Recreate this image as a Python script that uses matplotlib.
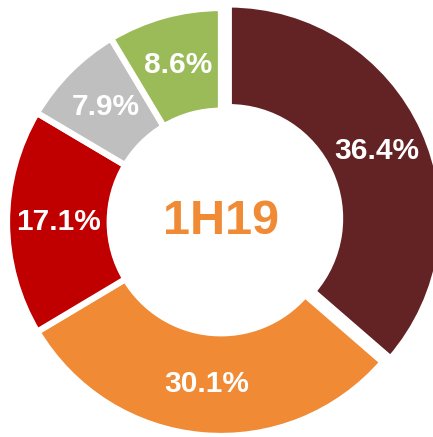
import matplotlib
matplotlib.use("Agg")
import matplotlib.pyplot as plt
import numpy as np

# slice shares in percent, clockwise from 12 o'clock
shares = [36.4, 30.1, 17.1, 7.9, 8.6]
labels = ["36.4%", "30.1%", "17.1%", "7.9%", "8.6%"]
colors = ["#632325", "#F08A34", "#C00000", "#BFBFBF", "#9BBB59"]
explode = [0.04, 0, 0, 0, 0]
centre_text = "1H19"

plt.rcParams['font.family'] = ['Liberation Sans', 'DejaVu Sans']

fig = plt.figure(figsize=(4.33, 4.37), dpi=100)
fig.patch.set_facecolor('white')

cx, cy, r = 221, 222, 214  # pixels, from top-left
ax = fig.add_axes([(cx - r) / 433, (437 - cy - r) / 437, 2 * r / 433, 2 * r / 437])

wedges, _ = ax.pie(shares, colors=colors, startangle=90, counterclock=False,
                   explode=explode, radius=1.0,
                   wedgeprops=dict(width=0.48, edgecolor='white', linewidth=4.5))

# labels at mid-ring
start = 90.0
total = sum(shares)
for share, lab, ex in zip(shares, labels, explode):
    mid = np.deg2rad(start - share / total * 360 / 2)
    dist = 0.76 + ex
    ax.text(dist * np.cos(mid), dist * np.sin(mid), lab, ha='center', va='center',
            color='white', fontsize=21.5, fontweight='bold')
    start -= share / total * 360

ax.text(0, 0, centre_text, ha='center', va='center', color='#F08A34',
        fontsize=35, fontweight='bold')

ax.set_xlim(-1, 1)
ax.set_ylim(-1, 1)
ax.set_aspect('auto')
ax.axis('off')

fig.savefig('out.png', dpi=100, facecolor='white')
